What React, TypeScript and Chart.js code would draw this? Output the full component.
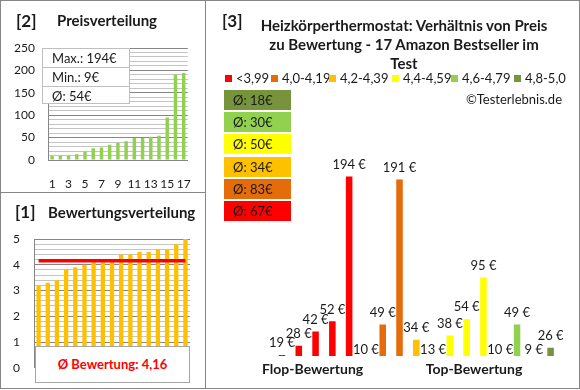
import React, { useEffect, useRef } from "react";
import { Chart, registerables } from "chart.js";

Chart.register(...registerables);

// ---------- DATA ----------
const priceRanks = ["1", "2", "3", "4", "5", "6", "7", "8", "9", "10", "11", "12", "13", "14", "15", "16", "17"];
const sortedPrices = [9, 10, 10, 13, 19, 26, 28, 34, 38, 42, 49, 49, 52, 54, 95, 191, 194];
const priceMajorTicks = [0, 50, 100, 150, 200, 250];
const priceStats = ["Max.: 194€", "Min.: 9€", "Ø: 54€"];

const sortedRatings = [3.2, 3.3, 3.4, 3.8, 3.9, 4.0, 4.1, 4.1, 4.2, 4.4, 4.4, 4.5, 4.5, 4.6, 4.6, 4.8, 5.0];
const avgRating = 4.16;
const avgRatingText = "Ø Bewertung: 4,16";

const productPrices = [19, 28, 42, 52, 194, 10, 49, 191, 34, 13, 38, 54, 95, 10, 49, 9, 26];
const productGroup = [0, 0, 0, 0, 0, 1, 1, 1, 2, 3, 3, 3, 3, 4, 4, 5, 5];
const groupLabels = ["<3,99", "4,0-4,19", "4,2-4,39", "4,4-4,59", "4,6-4,79", "4,8-5,0"];
const groupColors = ["#FF0000", "#E46C0A", "#FFC000", "#FFFF00", "#92D050", "#77933C"];
const groupAverages = ["Ø: 67€", "Ø: 83€", "Ø: 34€", "Ø: 50€", "Ø: 30€", "Ø: 18€"];
const titleLines = [
  "Heizkörperthermostat: Verhältnis von Preis",
  "zu Bewertung - 17 Amazon Bestseller im",
  "Test",
];

const FONT = "Lato, 'Open Sans', sans-serif";
const TXT = "#1a1a1a";
const MAJOR = "#868686";
const MINOR = "#C4C4C4";

function useChart(ref: React.RefObject<HTMLCanvasElement>, make: () => any) {
  useEffect(() => {
    const chart = new Chart(ref.current as HTMLCanvasElement, make());
    return () => chart.destroy();
  }, []);
}

const Abs = ({ x, y, w, h, style, children }: any) => (
  <div
    style={{
      position: "absolute",
      left: x,
      top: y,
      width: w,
      height: h,
      whiteSpace: "nowrap",
      ...style,
    }}
  >
    {children}
  </div>
);

export default function App() {
  const priceRef = useRef<HTMLCanvasElement>(null);
  const ratingRef = useRef<HTMLCanvasElement>(null);
  const prodRef = useRef<HTMLCanvasElement>(null);

  useChart(priceRef, () => ({
    type: "bar",
    data: {
      labels: priceRanks,
      datasets: [
        {
          data: sortedPrices,
          backgroundColor: "#92D050",
          barPercentage: 0.42,
          categoryPercentage: 1,
        },
      ],
    },
    options: {
      animation: false,
      responsive: false,
      maintainAspectRatio: false,
      plugins: { legend: { display: false }, tooltip: { enabled: false } },
      layout: { padding: { top: 48, right: 12, bottom: 0, left: 0 } },
      scales: {
        x: {
          grid: { display: false },
          border: { display: true, color: MAJOR },
          ticks: {
            autoSkip: false,
            maxRotation: 0,
            padding: 9,
            color: TXT,
            font: { family: FONT, size: 12 },
            callback: (_v: any, i: number) => (i % 2 === 0 ? priceRanks[i] : ""),
          },
          afterFit: (s: any) => {
            s.height = 32;
          },
        },
        y: {
          min: 0,
          max: 250,
          ticks: {
            stepSize: 10,
            maxTicksLimit: 100,
            autoSkip: false,
            padding: 13,
            color: TXT,
            font: { family: FONT, size: 12 },
            callback: (v: number) => (priceMajorTicks.includes(v) ? String(v) : ""),
          },
          grid: {
            drawTicks: false,
            color: (c: any) => (c.tick && priceMajorTicks.includes(c.tick.value) ? MAJOR : MINOR),
          },
          border: { display: true, color: MAJOR },
          afterFit: (s: any) => {
            s.width = 48;
          },
        },
      },
    },
  }));

  useChart(ratingRef, () => ({
    type: "bar",
    data: {
      labels: priceRanks,
      datasets: [
        {
          type: "line",
          data: sortedRatings.map(() => avgRating),
          borderColor: "#FF0000",
          borderWidth: 3.5,
          pointRadius: 0,
          order: 0,
        },
        {
          data: sortedRatings,
          backgroundColor: "#FFC000",
          barPercentage: 0.47,
          categoryPercentage: 1,
          order: 1,
        },
      ],
    },
    options: {
      animation: false,
      responsive: false,
      maintainAspectRatio: false,
      plugins: { legend: { display: false }, tooltip: { enabled: false } },
      layout: { padding: { top: 46, right: 10, bottom: 0, left: 0 } },
      scales: {
        x: {
          display: true,
          grid: { display: false },
          border: { display: false },
          ticks: { display: false },
          afterFit: (s: any) => {
            s.height = 8;
          },
        },
        y: {
          min: 0,
          max: 5,
          ticks: {
            stepSize: 0.2,
            maxTicksLimit: 100,
            autoSkip: false,
            padding: 14,
            color: TXT,
            font: { family: FONT, size: 12 },
            callback: (v: number) => {
              const r = Math.round(v * 1000) / 1000;
              return Number.isInteger(r) ? String(r) : "";
            },
          },
          grid: {
            drawTicks: false,
            color: (c: any) => {
              if (!c.tick) return MINOR;
              const r = Math.round(c.tick.value * 1000) / 1000;
              return Number.isInteger(r) ? MAJOR : MINOR;
            },
          },
          border: { display: true, color: MAJOR },
          afterFit: (s: any) => {
            s.width = 34;
          },
        },
      },
    },
  }));

  useChart(prodRef, () => ({
    type: "bar",
    data: {
      labels: priceRanks,
      datasets: [
        {
          data: productPrices,
          backgroundColor: productGroup.map((g) => groupColors[g]),
          barPercentage: 0.39,
          categoryPercentage: 1,
        },
      ],
    },
    options: {
      animation: false,
      responsive: false,
      maintainAspectRatio: false,
      plugins: { legend: { display: false }, tooltip: { enabled: false } },
      layout: { padding: { top: 150, right: 19, bottom: 32, left: 67.6 } },
      scales: {
        x: { display: false },
        y: { display: false, min: 18, max: 220 },
      },
    },
    plugins: [
      {
        id: "valueLabels",
        afterDatasetsDraw(chart: any) {
          const ctx = chart.ctx;
          const meta = chart.getDatasetMeta(0);
          const ys = chart.scales.y;
          const base = ys.getPixelForValue(ys.min);
          ctx.save();
          ctx.font = `13px ${FONT}`;
          ctx.fillStyle = TXT;
          ctx.textAlign = "center";
          ctx.textBaseline = "middle";
          meta.data.forEach((el: any, i: number) => {
            const v = productPrices[i];
            const cy = v < ys.min ? base - 6 : ys.getPixelForValue(v) - 12;
            ctx.fillText(`${v} €`, el.x, cy);
          });
          ctx.restore();
        },
      },
    ],
  }));

  const boxOrder = [5, 4, 3, 2, 1, 0];
  const legendX = [225, 271, 329, 392, 451, 514];

  return (
    <div
      style={{
        position: "absolute",
        left: 0,
        top: 0,
        width: 580,
        height: 390,
        background: "#fff",
        fontFamily: FONT,
        overflow: "hidden",
        color: TXT,
      }}
    >
      {/* frame */}
      <div
        style={{
          position: "absolute",
          left: 0,
          top: 0,
          width: 580,
          height: 389,
          border: "1px solid #868686",
          boxSizing: "border-box",
        }}
      />
      <div style={{ position: "absolute", left: 205, top: 0, width: 1, height: 389, background: "#868686" }} />
      <div style={{ position: "absolute", left: 0, top: 192, width: 205, height: 1, background: "#868686" }} />

      <canvas ref={priceRef} width={200} height={192} style={{ position: "absolute", left: 0, top: 0, width: 200, height: 192 }} />
      <canvas ref={ratingRef} width={200} height={196} style={{ position: "absolute", left: 0, top: 193, width: 200, height: 196 }} />
      <canvas ref={prodRef} width={372} height={388} style={{ position: "absolute", left: 206, top: 0, width: 372, height: 388 }} />

      {/* Panel 2 */}
      <Abs x={16} y={11} style={{ fontSize: 17, fontWeight: 700, lineHeight: "20px" }}>[2]</Abs>
      <Abs x={57} y={11} style={{ fontSize: 15, fontWeight: 700, lineHeight: "18px" }}>Preisverteilung</Abs>
      <Abs x={42} y={48} w={88} h={56} style={{ background: "#fff", border: "1px solid #BFBFBF", boxSizing: "border-box" }}>
        {priceStats.map((s, i) => (
          <div
            key={i}
            style={{
              height: i < 2 ? 18 : 17,
              borderTop: i > 0 ? "1px solid #BFBFBF" : "none",
              fontSize: 13,
              lineHeight: "18px",
              paddingLeft: 9,
            }}
          >
            {s}
          </div>
        ))}
      </Abs>

      {/* Panel 1 */}
      <Abs x={15} y={202} style={{ fontSize: 17, fontWeight: 700, lineHeight: "20px" }}>[1]</Abs>
      <Abs x={48} y={203} style={{ fontSize: 15, fontWeight: 700, lineHeight: "18px" }}>Bewertungsverteilung</Abs>
      <Abs
        x={35}
        y={346}
        w={155}
        h={37}
        style={{
          background: "#fff",
          border: "1px solid #A6A6A6",
          boxSizing: "border-box",
          color: "#FF0000",
          fontSize: 13,
          fontWeight: 700,
          lineHeight: "35px",
          textAlign: "center",
        }}
      >
        {avgRatingText}
      </Abs>

      {/* Panel 3 */}
      <Abs x={222} y={11} style={{ fontSize: 17, fontWeight: 700, lineHeight: "20px" }}>[3]</Abs>
      {titleLines.map((t, i) => (
        <Abs key={i} x={254} y={16 + i * 19} w={300} style={{ fontSize: 15, fontWeight: 700, lineHeight: "19px", textAlign: "center" }}>
          {t}
        </Abs>
      ))}
      {groupLabels.map((g, i) => (
        <Abs key={i} x={legendX[i]} y={71} style={{ fontSize: 13, lineHeight: "15px" }}>
          <span
            style={{
              display: "inline-block",
              width: 7,
              height: 7,
              background: groupColors[i],
              marginRight: 4,
              verticalAlign: "middle",
              position: "relative",
              top: -1,
            }}
          />
          {g}
        </Abs>
      ))}
      <Abs x={400} y={91} w={162} style={{ fontSize: 13, lineHeight: "16px", textAlign: "right" }}>©Testerlebnis.de</Abs>
      {boxOrder.map((g, i) => (
        <Abs
          key={g}
          x={224}
          y={90 + i * 22.2}
          w={67}
          h={20}
          style={{ background: groupColors[g], fontSize: 13, lineHeight: "20px", paddingLeft: 9, boxSizing: "border-box" }}
        >
          {groupAverages[g]}
        </Abs>
      ))}
      <Abs x={262} y={360} w={100} style={{ fontSize: 14, fontWeight: 700, lineHeight: "18px", textAlign: "center" }}>Flop-Bewertung</Abs>
      <Abs x={424} y={360} w={100} style={{ fontSize: 14, fontWeight: 700, lineHeight: "18px", textAlign: "center" }}>Top-Bewertung</Abs>
    </div>
  );
}
